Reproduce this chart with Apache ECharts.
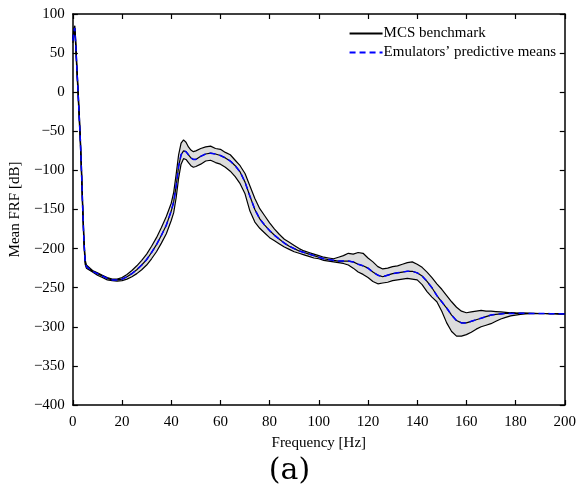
<!DOCTYPE html>
<html><head><meta charset="utf-8">
<script src="https://cdn.jsdelivr.net/npm/echarts@6/dist/echarts.min.js"></script>
<style>html,body{margin:0;padding:0;background:#fff}#c{width:579px;height:495px}</style>
</head><body><div id="c"></div>
<script>
var freq = [0,0.4,0.8,1.2,1.6,2,2.5,3,3.5,4,4.5,5,5.5,6,8,10,12,14,16,18,20,22,24,26,28,30,32,34,36,38,40,41,42,43,44,45,46,47,48,49,50,52,54,56,58,60,62,64,66,68,70,72,74,76,78,80,82,84,86,88,90,92,94,96,98,100,102,104,106,108,110,112,114,116,118,120,122,124,126,128,130,132,134,136,138,140,142,144,146,148,150,152,154,156,158,160,162,164,166,168,170,172,174,176,178,180,182,184,186,188,190,192,194,196,198,200];
var meanFRF = [66,78,82,60,32,8,-25,-58,-100,-148,-190,-217,-223,-225,-229,-232,-235,-238,-240,-240,-239,-236,-232,-227,-221,-214,-205,-195,-183,-170,-152,-140,-120,-95,-80,-75,-76,-80,-84,-86,-86,-82,-79,-78,-79,-81,-84,-88,-94,-102,-115,-133,-150,-162,-170,-177,-183,-188,-193,-197,-200,-203,-205,-207,-209,-211,-213,-214,-215,-216,-216,-216,-217,-220,-222,-225,-230,-234,-236,-234,-232,-231,-230,-229,-229,-231,-235,-242,-250,-260,-268,-276,-285,-292,-295,-295,-293,-291,-289,-287,-285,-284,-283.5,-283,-283,-282.8,-282.8,-282.8,-282.9,-283,-283,-283,-283.2,-283.3,-283.4,-283.5];
var upperFRF = [68,82,85,64,36,12,-20,-53,-95,-143,-186,-214,-221,-223,-228,-231,-234,-237,-239,-239,-237,-233,-228,-222,-215,-207,-197,-186,-173,-159,-142,-128,-105,-80,-65,-61,-64,-70,-74,-76,-75,-72,-70,-69,-72,-73,-77,-80,-87,-94,-104,-120,-136,-149,-158,-167,-175,-182,-188,-192,-196,-200,-203,-205,-207,-209,-211,-212,-213,-211,-209,-206,-207,-205,-206,-212,-217,-223,-226,-225,-223,-222,-220,-218,-217,-220,-224,-230,-237,-245,-252,-260,-268,-275,-280,-282,-281,-280,-279,-280,-280,-280.5,-281,-281.5,-282,-282.3,-282.5,-282.6,-282.8,-282.9,-283,-283,-283.2,-283.3,-283.4,-283.5];
var lowerFRF = [63,74,78,56,28,4,-30,-63,-105,-153,-194,-220,-225,-227,-230,-234,-237,-240,-241,-241.5,-241,-239,-236,-232,-227,-221,-213,-204,-193,-181,-164,-154,-135,-110,-92,-85,-86,-90,-94,-96,-95,-92,-88,-87,-90,-92,-96,-101,-108,-117,-130,-152,-166,-174,-180,-186,-190,-194,-198,-201,-204,-206,-208,-210,-212,-213,-215,-216,-217,-218,-219,-221,-225,-230,-233,-237,-242,-245,-244,-243,-241,-240,-239,-238,-239,-240,-246,-255,-262,-268,-280,-295,-306,-312,-312,-310,-307,-303,-300,-298,-296,-293,-290,-288,-286,-285,-284,-283.5,-283.3,-283.2,-283.1,-283,-283.2,-283.3,-283.4,-283.5];
var xTicks = [0,20,40,60,80,100,120,140,160,180,200];
var yTicks = [-400,-350,-300,-250,-200,-150,-100,-50,0,50,100];

function pairs(ys){ return freq.map(function(f,i){ return [f, ys[i]]; }); }

var FONT = 'Liberation Serif';
var chart = echarts.init(document.getElementById('c'), null, {renderer:'canvas'});
var axisLine = {show:true, onZero:false, lineStyle:{color:'#000', width:1.5}};
var tick = {show:true, inside:true, length:5, lineStyle:{color:'#000', width:1.2}};
chart.setOption({
  animation:false,
  backgroundColor:'#fff',
  grid:{left:70, right:11, top:14, bottom:90, containLabel:false},
  title:{text:'(a)', left:'center', top:456, textStyle:{fontFamily:'DejaVu Serif', fontSize:30, fontWeight:'normal', color:'#000'}, padding:0, itemGap:0},
  legend:{
    orient:'vertical', right:18, top:21, itemWidth:33, itemHeight:14, itemGap:4,
    itemStyle:{opacity:0, borderWidth:0},
    data:['MCS benchmark', "Emulators\u2019 predictive means"],
    textStyle:{fontFamily:FONT, fontSize:15, color:'#000', padding:[0,0,0,-4]}
  },
  xAxis:[
    {type:'value', min:0, max:200, interval:20, position:'bottom',
     name:'Frequency [Hz]', nameLocation:'middle', nameGap:31,
     nameTextStyle:{fontFamily:FONT, fontSize:15, color:'#000'},
     axisLine:axisLine, axisTick:tick, splitLine:{show:false},
     axisLabel:{fontFamily:FONT, fontSize:15, color:'#000', margin:10}},
    {type:'value', min:0, max:200, interval:20, position:'top',
     axisLine:axisLine, axisTick:tick, axisLabel:{show:false}, splitLine:{show:false}}
  ],
  yAxis:[
    {type:'value', min:-400, max:100, interval:50, position:'left',
     name:'Mean FRF [dB]', nameLocation:'middle', nameGap:47, nameRotate:90,
     nameTextStyle:{fontFamily:FONT, fontSize:15, color:'#000'},
     axisLine:axisLine, axisTick:tick, splitLine:{show:false},
     axisLabel:{fontFamily:FONT, fontSize:15, color:'#000', margin:8,
       formatter:function(v){ return String(v).replace('-', '\u2212'); }}},
    {type:'value', min:-400, max:100, interval:50, position:'right',
     axisLine:axisLine, axisTick:tick, axisLabel:{show:false}, splitLine:{show:false}}
  ],
  series:[
    {type:'custom', name:'band', silent:true, data:[[0,0]], z:1,
     renderItem:function(params, api){
       var pts = [];
       for (var i=0;i<freq.length;i++) pts.push(api.coord([freq[i], upperFRF[i]]));
       for (var j=freq.length-1;j>=0;j--) pts.push(api.coord([freq[j], lowerFRF[j]]));
       return {type:'polygon', shape:{points:pts}, style:{fill:'#dcdcdc', stroke:null}};
     }},
    {type:'line', name:'upper', data:pairs(upperFRF), symbol:'none', z:3,
     lineStyle:{color:'#000', width:1.2}},
    {type:'line', name:'lower', data:pairs(lowerFRF), symbol:'none', z:3,
     lineStyle:{color:'#000', width:1.2}},
    {type:'line', name:'MCS benchmark', data:pairs(meanFRF), symbol:'none', z:4,
     color:'#000', lineStyle:{color:'#000', width:1.2}},
    {type:'line', name:"Emulators\u2019 predictive means", data:pairs(meanFRF), symbol:'none', z:5,
     color:'#0000ff', lineStyle:{color:'#0000ff', width:1.5, type:[6,4]}}
  ]
});
</script></body></html>
